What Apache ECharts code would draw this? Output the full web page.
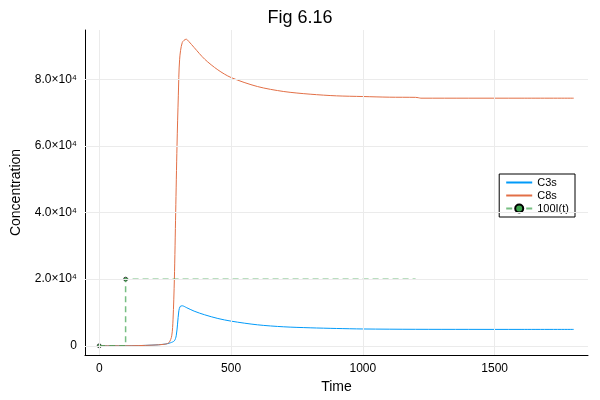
<!DOCTYPE html><html><head><meta charset="utf-8"><script src="https://cdn.jsdelivr.net/npm/echarts@6/dist/echarts.min.js"></script></head><body style="margin:0"><div id="c" style="width:600px;height:400px"></div><script>
const t3=[0,100,200,250,270,285,292,297,302,307,315,330,360,400,450,500,600,700,800,900,1000,1200,1400,1600,1800];
const c3=[0,0,200,500,900,1500,3000,6500,10500,11800,12000,11500,10400,9300,8200,7400,6300,5700,5400,5200,5050,4950,4930,4920,4920];
const t8=[0,100,200,250,265,275,280,285,290,295,300,305,315,330,340,360,400,450,500,600,700,800,900,1000,1100,1200,1210,1220,1400,1600,1800];
const c8=[0,0,200,500,1000,3000,8000,20000,40000,60000,75000,86000,91000,92000,91300,89500,86000,82800,80500,77800,76300,75500,75000,74800,74600,74550,74450,74300,74300,74300,74300];
const tI=[0,100,100,1200];
const vI=[0,0,20000,20000];
const mk=[[0,0],[100,20000]];
const yt={0:'0',20000:'2.0×10⁴',40000:'4.0×10⁴',60000:'6.0×10⁴',80000:'8.0×10⁴'};
const z=(a,b)=>a.map((x,i)=>[x,b[i]]);
const ch=echarts.init(document.getElementById('c'));
ch.setOption({animation:false,
title:{text:'Fig 6.16',left:'center',top:4,textStyle:{fontSize:18,fontWeight:'normal',color:'#000'}},
grid:{left:85,right:12,top:30,bottom:45},
legend:{right:25,top:174,orient:'vertical',itemWidth:26,itemHeight:10,itemGap:2,borderColor:'#000',borderWidth:1,padding:[3,6],textStyle:{fontSize:11,color:'#000'},backgroundColor:'#fff',
 data:[{name:'C3s',itemStyle:{opacity:0}},{name:'C8s',itemStyle:{opacity:0}},'100I(t)']},
xAxis:{type:'value',min:-54,max:1854,name:'Time',nameLocation:'middle',nameGap:25,nameTextStyle:{fontSize:14},
 axisLine:{onZero:false,lineStyle:{color:'#000'}},axisLabel:{color:'#000',customValues:[0,500,1000,1500],formatter:v=>String(v)},
 axisTick:{inside:true,customValues:[0,500,1000,1500]},splitLine:{show:false}},
yAxis:{type:'value',min:-2760,max:94760,name:'Concentration',nameLocation:'middle',nameGap:62,nameTextStyle:{fontSize:14},
 axisLine:{show:true,onZero:false,lineStyle:{color:'#000'}},axisTick:{show:true,inside:true,customValues:[0,20000,40000,60000,80000]},
 axisLabel:{color:'#000',customValues:[0,20000,40000,60000,80000],formatter:v=>yt[v]},splitLine:{show:false}},
series:[
{name:'C3s',type:'line',data:z(t3,c3),showSymbol:false,smooth:0.3,lineStyle:{color:'#009af9',width:1},itemStyle:{color:'#009af9'}},
{name:'C8s',type:'line',data:z(t8,c8),showSymbol:false,smooth:0.3,lineStyle:{color:'#e26f46',width:1},itemStyle:{color:'#e26f46'}},
{name:'100I(t)',type:'line',data:z(tI,vI),showSymbol:false,lineStyle:{color:'#3da44d',width:1.5,type:[6,4],opacity:0.7},itemStyle:{color:'#3da44d',borderColor:'#000',borderWidth:1},symbol:'circle',symbolSize:7},
{name:'100I(t)',type:'scatter',data:mk,symbolSize:4,itemStyle:{color:'#3da44d',borderColor:'#000',borderWidth:0.8}},
{type:'line',silent:true,data:[],markLine:{silent:true,symbol:'none',label:{show:false},lineStyle:{color:'#ebebeb',type:'solid',width:1},
 data:[0,500,1000,1500].map(v=>({xAxis:v})).concat([0,20000,40000,60000,80000].map(v=>({yAxis:v})))}}
]});
</script></body></html>
